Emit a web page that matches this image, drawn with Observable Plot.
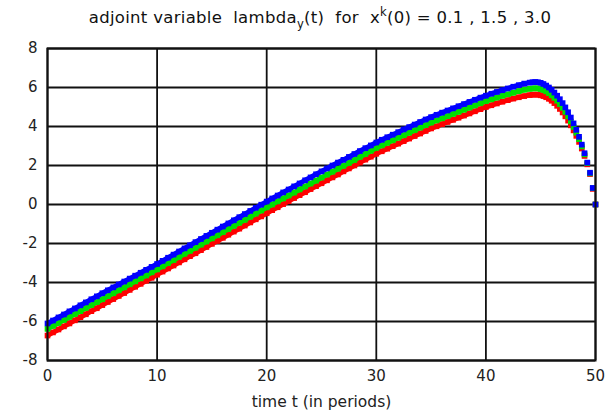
<!DOCTYPE html>
<html>
<head>
<meta charset="utf-8">
<script src="https://cdn.jsdelivr.net/npm/d3@7"></script>
<script src="https://cdn.jsdelivr.net/npm/@observablehq/plot@0.6"></script>
<style>
  html, body { margin: 0; padding: 0; background: #fff; }
  #wrap { width: 607px; height: 416px; position: relative; overflow: hidden; }
  #title { position: absolute; left: 0; top: 0; width: 640px; height: 40px; text-align: center; white-space: pre;
           font-family: "DejaVu Sans", Verdana, sans-serif; font-size: 16.5px; letter-spacing: 0.3px; color: #111; line-height: 36px; }
  #title sub { font-size: 11.5px; vertical-align: -5px; line-height: 0; }
  #title sup { font-size: 11.5px; vertical-align: 7px; line-height: 0; }
  #chart { position: absolute; left: 0; top: 40px; }
</style>
</head>
<body>
<div id="wrap">
  <div id="title">adjoint variable  lambda<sub>y</sub>(t)  for  x<sup>k</sup>(0) = 0.1 , 1.5 , 3.0</div>
  <div id="chart"></div>
</div>
<script>
const xTicks = [0, 10, 20, 30, 40, 50];
const yTicks = [-8, -6, -4, -2, 0, 2, 4, 6, 8];
const seriesNames = ["x(0) = 3.0", "x(0) = 1.5", "x(0) = 0.1"];
const seriesColors = ["#ff0000", "#00e000", "#0000ff"];

const time = [
  0, 0.5, 1, 1.5, 2, 2.5, 3, 3.5, 4, 4.5, 5, 5.5, 6, 6.5, 7, 7.5, 8, 8.5, 9, 9.5,
  10, 10.5, 11, 11.5, 12, 12.5, 13, 13.5, 14, 14.5, 15, 15.5, 16, 16.5, 17, 17.5, 18, 18.5, 19, 19.5,
  20, 20.5, 21, 21.5, 22, 22.5, 23, 23.5, 24, 24.5, 25, 25.5, 26, 26.5, 27, 27.5, 28, 28.5, 29, 29.5,
  30, 30.5, 31, 31.5, 32, 32.5, 33, 33.5, 34, 34.5, 35, 35.5, 36, 36.5, 37, 37.5, 38, 38.5, 39, 39.5,
  40, 40.5, 41, 41.5, 42, 42.5, 43, 43.5, 44,
  44.25, 44.5, 44.75, 45, 45.25, 45.5, 45.75, 46, 46.25, 46.5, 46.75, 47, 47.25, 47.5, 47.75,
  48, 48.25, 48.5, 48.75, 49, 49.25, 49.5, 49.75, 50
];

// x(0) = 0.1 (blue, top)
const lambdaBlue = [
  -6.10, -5.95, -5.79, -5.64, -5.48, -5.33, -5.17, -5.02, -4.86, -4.71, -4.55, -4.40, -4.25, -4.10, -3.95, -3.80, -3.65, -3.50, -3.35, -3.20,
  -3.05, -2.89, -2.73, -2.57, -2.41, -2.25, -2.09, -1.93, -1.77, -1.61, -1.45, -1.29, -1.13, -0.97, -0.81, -0.65, -0.49, -0.33, -0.17, -0.01,
  0.15, 0.31, 0.46, 0.62, 0.77, 0.93, 1.08, 1.24, 1.39, 1.55, 1.70, 1.85, 2.00, 2.15, 2.29, 2.44, 2.59, 2.74, 2.89, 3.03,
  3.18, 3.32, 3.45, 3.58, 3.71, 3.85, 3.97, 4.10, 4.23, 4.36, 4.48, 4.60, 4.71, 4.82, 4.93, 5.04, 5.15, 5.26, 5.37, 5.48,
  5.58, 5.68, 5.77, 5.86, 5.95, 6.04, 6.12, 6.20, 6.25,
  6.27, 6.28, 6.27, 6.24, 6.18, 6.10, 6.00, 5.88, 5.74, 5.58, 5.40, 5.20, 4.98, 4.73, 4.46,
  4.16, 3.83, 3.47, 3.07, 2.63, 2.15, 1.63, 0.85, 0.00
];

// x(0) = 1.5 (green, middle)
const lambdaGreen = [
  -6.38, -6.23, -6.08, -5.92, -5.77, -5.62, -5.47, -5.31, -5.16, -5.01, -4.86, -4.70, -4.55, -4.40, -4.25, -4.09, -3.94, -3.79, -3.64, -3.48,
  -3.33, -3.17, -3.01, -2.85, -2.69, -2.53, -2.38, -2.22, -2.06, -1.90, -1.74, -1.58, -1.42, -1.26, -1.10, -0.94, -0.79, -0.63, -0.47, -0.31,
  -0.15, 0.00, 0.16, 0.31, 0.46, 0.61, 0.77, 0.92, 1.07, 1.22, 1.38, 1.53, 1.68, 1.83, 1.98, 2.13, 2.28, 2.44, 2.59, 2.75,
  2.90, 3.03, 3.16, 3.29, 3.42, 3.55, 3.68, 3.81, 3.94, 4.07, 4.20, 4.31, 4.42, 4.53, 4.64, 4.75, 4.86, 4.97, 5.08, 5.19,
  5.30, 5.39, 5.48, 5.57, 5.65, 5.73, 5.81, 5.88, 5.93,
  5.95, 5.96, 5.95, 5.92, 5.87, 5.80, 5.71, 5.60, 5.47, 5.32, 5.15, 4.96, 4.75, 4.52, 4.26,
  3.98, 3.68, 3.35, 2.98, 2.57, 2.12, 1.60, 0.84, 0.00
];

// x(0) = 3.0 (red, bottom)
const lambdaRed = [
  -6.72, -6.56, -6.41, -6.25, -6.10, -5.94, -5.78, -5.63, -5.47, -5.32, -5.16, -5.00, -4.85, -4.69, -4.54, -4.38, -4.22, -4.07, -3.91, -3.76,
  -3.60, -3.44, -3.28, -3.13, -2.97, -2.81, -2.65, -2.50, -2.34, -2.18, -2.02, -1.87, -1.71, -1.55, -1.39, -1.24, -1.08, -0.92, -0.76, -0.61,
  -0.45, -0.29, -0.14, 0.02, 0.17, 0.33, 0.48, 0.63, 0.79, 0.94, 1.09, 1.24, 1.39, 1.54, 1.70, 1.85, 2.00, 2.15, 2.30, 2.45,
  2.60, 2.73, 2.86, 2.99, 3.12, 3.25, 3.38, 3.51, 3.64, 3.77, 3.90, 4.01, 4.12, 4.23, 4.34, 4.45, 4.56, 4.67, 4.78, 4.89,
  5.00, 5.09, 5.18, 5.27, 5.35, 5.43, 5.50, 5.56, 5.61,
  5.63, 5.64, 5.63, 5.60, 5.56, 5.50, 5.42, 5.32, 5.20, 5.06, 4.90, 4.72, 4.52, 4.30, 4.06,
  3.80, 3.52, 3.21, 2.87, 2.49, 2.06, 1.56, 0.80, 0.00
];

const seriesValues = [lambdaRed, lambdaGreen, lambdaBlue];
const seriesData = seriesValues.map((vals, s) => vals.map((v, i) => ({t: time[i], v, s: seriesNames[s]})));

const seriesMarks = seriesData.flatMap((d) => [
  Plot.line(d.filter((p) => p.t <= 46), {x: "t", y: "v", stroke: "s", strokeWidth: 5, strokeLinecap: "butt"}),
  Plot.dot(d, {x: "t", y: "v", fill: "s", symbol: "square", r: 3.2, stroke: null})
]);

const fmt = (d) => String(d);

const chart = Plot.plot({
  width: 607,
  height: 376,
  marginTop: 8,
  marginBottom: 56,
  marginLeft: 47,
  marginRight: 12,
  style: {fontFamily: "DejaVu Sans, Verdana, sans-serif", fontSize: "15px", color: "#222", background: "#fff"},
  x: {domain: [0, 50], ticks: xTicks, tickFormat: fmt, label: null, tickSize: 0, tickPadding: 10},
  y: {domain: [-8, 8], ticks: yTicks, tickFormat: fmt, label: null, tickSize: 0, tickPadding: 10},
  color: {domain: seriesNames, range: seriesColors},
  marks: [
    Plot.ruleX(xTicks, {stroke: "#111", strokeWidth: 1.8}),
    Plot.ruleY(yTicks, {stroke: "#111", strokeWidth: 1.8}),
    ...seriesMarks,
    Plot.frame({stroke: "#111", strokeWidth: 2}),
    Plot.text(["time t (in periods)"], {frameAnchor: "bottom", dy: 46, fontSize: 15.5, fill: "#222"})
  ]
});
document.getElementById("chart").appendChild(chart);
</script>
</body>
</html>
